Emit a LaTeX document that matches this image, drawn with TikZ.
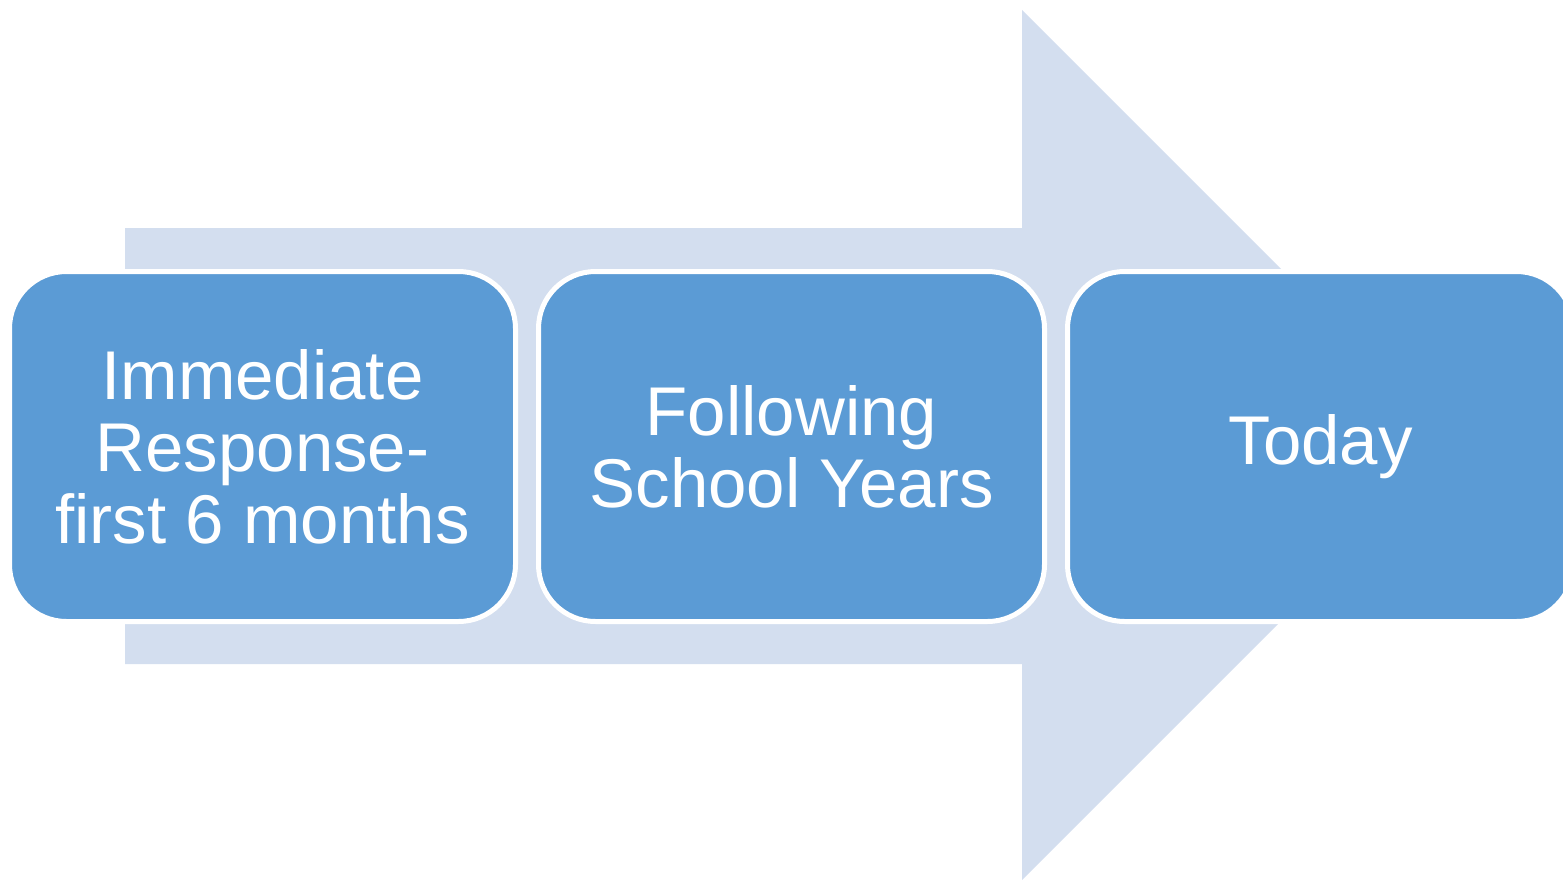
\documentclass[tikz,border=0pt]{standalone}
\usepackage{fontspec}
\setmainfont{Liberation Sans}
\definecolor{arrowblue}{HTML}{D3DEEF}
\definecolor{boxblue}{HTML}{5B9BD5}
\tikzset{
  stagebox/.style={rectangle, rounded corners=57pt, fill=boxblue, draw=white,
    line width=5pt, minimum width=506pt, minimum height=350pt, inner sep=0pt,
    outer sep=0pt, text=white, align=center,
    font=\fontsize{69}{72}\selectfont},
  bigarrow/.style={fill=arrowblue, draw=none}
}
\begin{document}
\begin{tikzpicture}[x=1pt,y=-1pt]
\useasboundingbox (0,0) rectangle (1563,880);
\begin{scope}
\clip (0,0) rectangle (1563,880);
\fill[bigarrow] (125,228) -- (1022,228) -- (1022,10) -- (1457,445) -- (1022,880) -- (1022,664) -- (125,664) -- cycle;
\node[stagebox] (b1) at (262.5,446.5) {Immediate\\Response-\\first 6 months};
\node[stagebox] (b2) at (791.5,446.5) {Following\\School Years};
\node[stagebox] (b3) at (1320.5,446.5) {Today};
\end{scope}
\end{tikzpicture}
\end{document}
